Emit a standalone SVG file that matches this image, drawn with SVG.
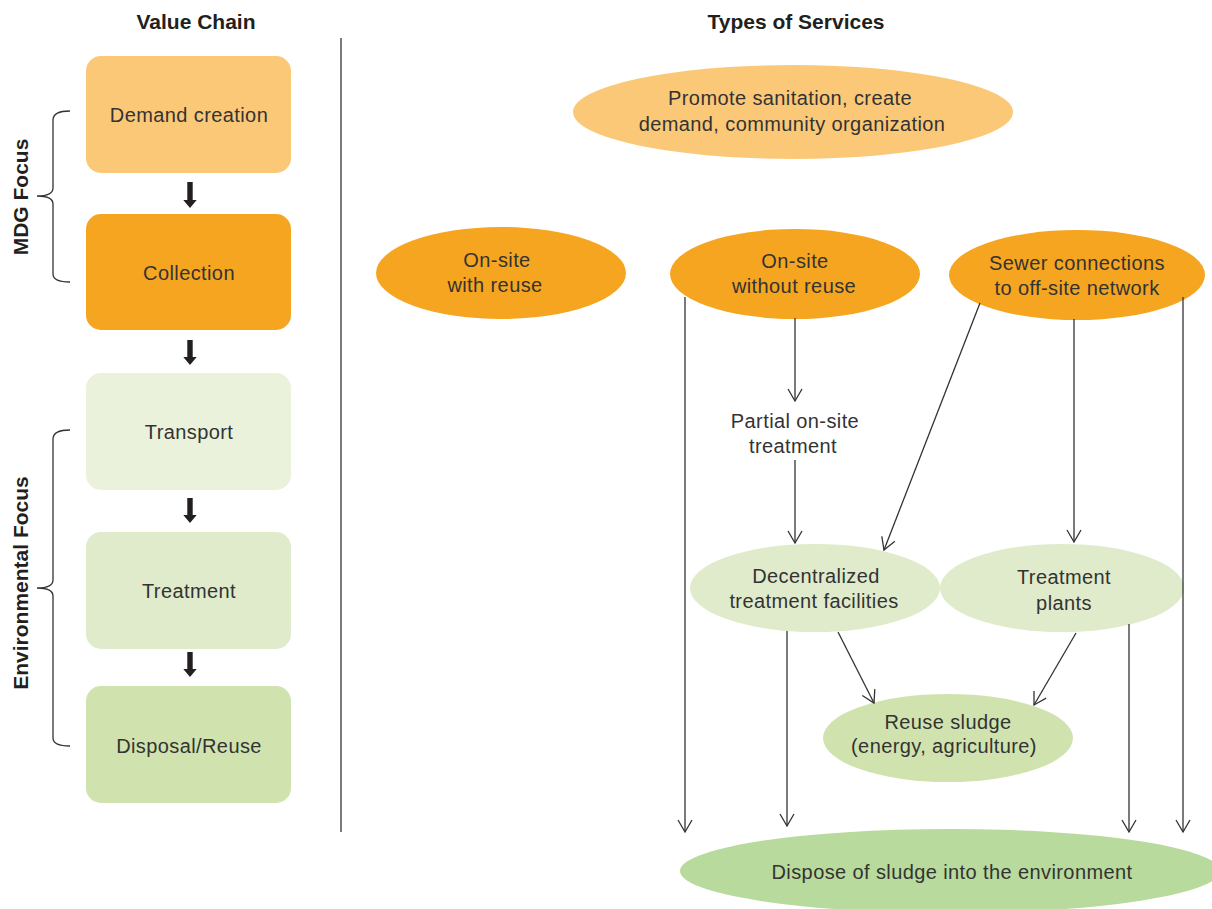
<svg xmlns="http://www.w3.org/2000/svg" width="1212" height="909" viewBox="0 0 1212 909">
<defs>
<style>
.t{font-family:"Liberation Sans",Arial,sans-serif;font-size:20px;fill:#333;text-anchor:middle;letter-spacing:0.4px}
.h{font-family:"Liberation Sans",Arial,sans-serif;font-size:21px;font-weight:bold;fill:#231f20;text-anchor:middle}
.c{stroke:#333;stroke-width:1.3;fill:none}
.br{stroke:#333;stroke-width:1.3;fill:none}
.ta{fill:#231f20}
</style>
<marker id="ah" viewBox="0 0 16 16" refX="14" refY="8" markerWidth="16" markerHeight="16" markerUnits="userSpaceOnUse" orient="auto">
<path d="M2,1 L14,8 L2,15" fill="none" stroke="#333" stroke-width="1.3"/>
</marker>
</defs>
<rect width="1212" height="909" fill="#fff"/>

<text class="h" x="196" y="29">Value Chain</text>
<text class="h" x="796" y="29">Types of Services</text>
<line x1="341" y1="38" x2="341" y2="832" stroke="#333" stroke-width="1.3"/>

<g id="mdg-focus">
<path class="br" d="M70,111 Q53,111 53,120 L53,188 Q53,196 37,196 Q53,196 53,204 L53,274 Q53,282 70,282"/>
<text class="h" transform="translate(28,197) rotate(-90)">MDG Focus</text>
</g>
<g id="env-focus">
<path class="br" d="M70,430 Q53,430 53,439 L53,580 Q53,588 37,588 Q53,588 53,596 L53,738 Q53,746 70,746"/>
<text class="h" transform="translate(28,583) rotate(-90)">Environmental Focus</text>
</g>

<g id="demand-creation"><rect x="86" y="56" width="205" height="117" rx="15" fill="#FBC878"/><text class="t" x="189" y="122">Demand creation</text></g>
<g id="collection"><rect x="86" y="214" width="205" height="116" rx="15" fill="#F6A520"/><text class="t" x="189" y="280">Collection</text></g>
<g id="transport"><rect x="86" y="373" width="205" height="117" rx="15" fill="#EAF2DC"/><text class="t" x="189" y="439">Transport</text></g>
<g id="treatment"><rect x="86" y="532" width="205" height="117" rx="15" fill="#DFEBCB"/><text class="t" x="189" y="598">Treatment</text></g>
<g id="disposal-reuse"><rect x="86" y="686" width="205" height="117" rx="15" fill="#D0E3AE"/><text class="t" x="189" y="753">Disposal/Reuse</text></g>

<g id="promote"><ellipse cx="793" cy="112" rx="220" ry="47" fill="#FBC878"/><text class="t" x="790" y="105">Promote sanitation, create</text><text class="t" x="792" y="131">demand, community organization</text></g>
<g id="onsite-reuse"><ellipse cx="501" cy="273" rx="125" ry="46" fill="#F6A520"/><text class="t" x="497" y="267">On-site</text><text class="t" x="495" y="292">with reuse</text></g>
<g id="onsite-noreuse"><ellipse cx="795" cy="274" rx="125" ry="45" fill="#F6A520"/><text class="t" x="795" y="268">On-site</text><text class="t" x="794" y="293">without reuse</text></g>
<g id="sewer"><ellipse cx="1077" cy="275" rx="128" ry="45" fill="#F6A520"/><text class="t" x="1077" y="270">Sewer connections</text><text class="t" x="1077" y="295">to off-site network</text></g>
<g id="partial"><text class="t" x="795" y="428">Partial on-site</text><text class="t" x="793" y="453">treatment</text></g>
<g id="decentralized"><ellipse cx="815" cy="588" rx="125" ry="44" fill="#DFEBCB"/><text class="t" x="816" y="583">Decentralized</text><text class="t" x="814" y="608">treatment facilities</text></g>
<g id="treatment-plants"><ellipse cx="1062" cy="588" rx="122" ry="44" fill="#DFEBCB"/><text class="t" x="1064" y="584">Treatment</text><text class="t" x="1064" y="610">plants</text></g>
<g id="reuse-sludge"><ellipse cx="948" cy="738" rx="125" ry="44" fill="#D0E3AE"/><text class="t" x="948" y="729">Reuse sludge</text><text class="t" x="944" y="753">(energy, agriculture)</text></g>
<g id="dispose"><ellipse cx="950" cy="871" rx="270" ry="42" fill="#B8DA9C"/><text class="t" x="952" y="879">Dispose of sludge into the environment</text></g>

<g id="connectors">
<path class="ta" d="M187.3,182 h5.4 v18 h4 l-6.7,8 l-6.7,-8 h4 z"/>
<path class="ta" d="M187.3,340 h5.4 v17 h4 l-6.7,8 l-6.7,-8 h4 z"/>
<path class="ta" d="M187.3,498 h5.4 v17 h4 l-6.7,8 l-6.7,-8 h4 z"/>
<path class="ta" d="M187.3,652 h5.4 v17 h4 l-6.7,8 l-6.7,-8 h4 z"/>

<line class="c" x1="685" y1="297" x2="685" y2="832" marker-end="url(#ah)"/>
<line class="c" x1="795" y1="318" x2="795" y2="401" marker-end="url(#ah)"/>
<line class="c" x1="795" y1="460" x2="795" y2="543" marker-end="url(#ah)"/>
<line class="c" x1="980" y1="303" x2="884" y2="550" marker-end="url(#ah)"/>
<line class="c" x1="1074" y1="319" x2="1074" y2="542" marker-end="url(#ah)"/>
<line class="c" x1="1183" y1="297" x2="1183" y2="832" marker-end="url(#ah)"/>
<line class="c" x1="787" y1="631" x2="787" y2="826" marker-end="url(#ah)"/>
<line class="c" x1="838" y1="632" x2="874" y2="703" marker-end="url(#ah)"/>
<line class="c" x1="1076" y1="633" x2="1034" y2="705" marker-end="url(#ah)"/>
<line class="c" x1="1129" y1="624" x2="1129" y2="832" marker-end="url(#ah)"/>
</g>
</svg>
